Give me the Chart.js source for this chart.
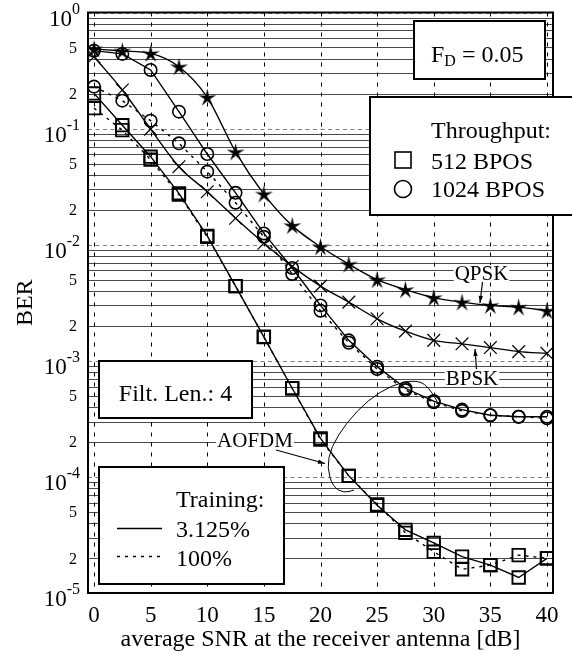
<!DOCTYPE html>
<html>
<head>
<meta charset="utf-8">
<script src="https://cdn.jsdelivr.net/npm/chart.js@4.4.0/dist/chart.umd.min.js"></script>
<style>
  html, body { margin: 0; padding: 0; background: #fff; }
  canvas { display: block; }
</style>
</head>
<body>
<canvas id="berChart" width="572" height="654"></canvas>
<script>
// x positions (dB) shared by every curve
const snr = [0, 2.5, 5, 7.5, 10, 12.5, 15, 17.5, 20, 22.5, 25, 27.5, 30, 32.5, 35, 37.5, 40]

// fixed modems
const qpsk = [0.485, 0.466, 0.445, 0.341, 0.186, 0.063, 0.0273, 0.0146, 0.0096, 0.0068, 0.005, 0.0041, 0.0035, 0.0032, 0.003, 0.0029, 0.0027]
const bpsk = [0.416, 0.215, 0.099, 0.047, 0.0286, 0.0169, 0.0103, 0.0065, 0.0044, 0.0032, 0.0023, 0.0018, 0.0015, 0.0014, 0.0013, 0.0012, 0.00116]

// AOFDM, 3.125% training (solid) and 100% training (dotted)
const bpos1024 = [0.469, 0.44, 0.32, 0.14, 0.0604, 0.028, 0.0125, 0.0063, 0.003, 0.0015, 0.00089, 0.00058, 0.00045, 0.00038, 0.00034, 0.00033, 0.00033]
const bpos1024Full = [0.23, 0.174, 0.117, 0.0747, 0.0426, 0.023, 0.0117, 0.0056, 0.0027, 0.00143, 0.00085, 0.00056, 0.00044, 0.00037, 0.00034, 0.00033, 0.00032]
const bpos512 = [0.201, 0.107, 0.0573, 0.0277, 0.0119, 0.0044, 0.00161, 0.00058, 0.000215, 0.000102, 5.7e-5, 3.5e-5, 2.7e-5, 2.06e-5, 1.74e-5, 1.36e-5, 1.99e-5]
const bpos512Full = [0.15, 0.097, 0.054, 0.027, 0.0117, 0.0044, 0.0016, 0.00058, 0.00021, 0.000102, 5.8e-5, 3.3e-5, 2.27e-5, 1.6e-5, 1.74e-5, 2.12e-5, 1.99e-5]

// axes
const xTicks = [0, 5, 10, 15, 20, 25, 30, 35, 40]
const yExponents = [0, -1, -2, -3, -4, -5]
const yMinorLabels = [2, 5]

const FONT = '"Liberation Serif", "Times New Roman", serif'
const ctx = document.getElementById('berChart').getContext('2d')

function makeStar(outer, inner) {
    const c = document.createElement('canvas')
    const s = Math.ceil(outer * 2 + 2)
    c.width = s
    c.height = s
    const g = c.getContext('2d')
    g.beginPath()
    for (let i = 0; i < 10; i++) {
        const r = i % 2 ? inner : outer
        const a = -Math.PI / 2 + i * Math.PI / 5
        g.lineTo(s / 2 + r * Math.cos(a), s / 2 + 0.8 + r * Math.sin(a))
    }
    g.closePath()
    g.fillStyle = '#000'
    g.fill()
    return c
}
const starImg = makeStar(9.5, 2.9)

function series(values) {
    return snr.map((x, i) => ({ x: x, y: values[i] }))
}

function curve(values, style, radius, dotted, smooth, bw) {
    return {
        data: series(values),
        borderColor: '#000',
        borderWidth: 1.4,
        borderDash: dotted ? [3, 5] : [],
        backgroundColor: 'transparent',
        pointStyle: style,
        pointRadius: radius,
        pointBorderColor: '#000',
        pointBackgroundColor: 'transparent',
        pointBorderWidth: bw,
        cubicInterpolationMode: smooth ? 'monotone' : 'default',
        tension: 0,
    }
}

const data = {
    datasets: [
        curve(qpsk, starImg, 8, false, true, 1),
        curve(bpsk, 'crossRot', 9, false, true, 1.2),
        curve(bpos1024, 'circle', 6.2, false, false, 1.6),
        curve(bpos1024Full, 'circle', 6.2, true, false, 1.6),
        curve(bpos512, 'rect', 8.8, false, false, 1.9),
        curve(bpos512Full, 'rect', 8.8, true, false, 1.9),
    ],
}

function isDecade(v) {
    const l = Math.log10(v)
    return Math.abs(l - Math.round(l)) < 1e-9
}

function seg(c, x1, y1, x2, y2) {
    c.beginPath()
    c.moveTo(x1, y1)
    c.lineTo(x2, y2)
    c.stroke()
}

function arrow(c, x1, y1, x2, y2) {
    seg(c, x1, y1, x2, y2)
    const a = Math.atan2(y2 - y1, x2 - x1)
    c.beginPath()
    c.moveTo(x2, y2)
    c.lineTo(x2 - 7 * Math.cos(a) + 2.2 * Math.sin(a), y2 - 7 * Math.sin(a) - 2.2 * Math.cos(a))
    c.lineTo(x2 - 7 * Math.cos(a) - 2.2 * Math.sin(a), y2 - 7 * Math.sin(a) + 2.2 * Math.cos(a))
    c.closePath()
    c.fill()
}

function box(c, x, y, w, h) {
    c.fillStyle = '#fff'
    c.fillRect(x, y, w, h)
    c.lineWidth = 2
    c.strokeStyle = '#000'
    c.setLineDash([])
    c.strokeRect(x, y, w, h)
    c.fillStyle = '#000'
}

// label sitting on a grid line, with a white patch behind it
function tag(c, text, cx, base) {
    c.font = '21px ' + FONT
    const w = c.measureText(text).width
    c.fillStyle = '#fff'
    c.fillRect(cx - w / 2 - 1, base - 15, w + 2, 17)
    c.fillStyle = '#000'
    c.textAlign = 'center'
    c.fillText(text, cx, base)
}

const decor = {
    id: 'decor',
    beforeDatasetsDraw(chart) {
        const c = chart.ctx
        const a = chart.chartArea
        const x = chart.scales.x
        const y = chart.scales.y
        c.save()
        c.lineWidth = 1
        y.ticks.forEach(t => {
            const py = Math.round(y.getPixelForValue(t.value)) + 0.5
            if (isDecade(t.value)) {
                c.strokeStyle = '#808080'
                c.setLineDash([4, 3.5])
            } else {
                c.strokeStyle = '#4a4a4a'
                c.setLineDash([])
            }
            seg(c, a.left, py, a.right, py)
        })
        c.strokeStyle = '#000'
        c.setLineDash([4, 6])
        xTicks.forEach(v => {
            const px = Math.round(x.getPixelForValue(v)) + 0.5
            seg(c, px, a.top, px, a.bottom)
        })
        c.restore()
    },
    afterDraw(chart) {
        const c = chart.ctx
        const a = chart.chartArea
        const y = chart.scales.y
        c.save()
        c.setLineDash([])
        c.strokeStyle = '#000'
        c.lineWidth = 2
        c.strokeRect(a.left, a.top, a.right - a.left, a.bottom - a.top)

        // y tick labels: 10^n and the 2 / 5 in between
        c.fillStyle = '#000'
        c.textBaseline = 'alphabetic'
        yExponents.forEach(e => {
            const py = y.getPixelForValue(Math.pow(10, e))
            c.font = '16px ' + FONT
            c.textAlign = 'right'
            const exp = String(e)
            c.fillText(exp, 80, py + 1)
            const ew = c.measureText(exp).width
            c.font = '23px ' + FONT
            c.fillText('10', 80 - ew, py + 13)
        })
        c.font = '16px ' + FONT
        c.textAlign = 'right'
        yExponents.slice(1).forEach(e => {
            yMinorLabels.forEach(m => {
                const py = y.getPixelForValue(m * Math.pow(10, e))
                c.fillText(String(m), 77, py + 5.5)
            })
        })

        // F_D box
        box(c, 414, 21, 131, 58)
        c.textAlign = 'left'
        c.font = '24px ' + FONT
        c.fillText('F', 431, 62)
        let fx = 431 + c.measureText('F').width
        c.font = '16px ' + FONT
        c.fillText('D', fx, 66)
        fx += c.measureText('D').width
        c.font = '24px ' + FONT
        c.fillText(' = 0.05', fx, 62)

        // throughput legend
        box(c, 370, 97, 210, 118)
        c.font = '24px ' + FONT
        c.fillText('Throughput:', 431, 138)
        c.fillText('512 BPOS', 431, 168.5)
        c.fillText('1024 BPOS', 431, 196.5)
        c.lineWidth = 1.6
        c.strokeRect(395, 152, 16, 16)
        c.beginPath()
        c.arc(403, 189, 8.5, 0, Math.PI * 2)
        c.stroke()

        // filter length box
        box(c, 99, 361, 153, 57)
        c.font = '24px ' + FONT
        c.textAlign = 'center'
        c.fillText('Filt. Len.: 4', 175.5, 401)

        // training legend
        box(c, 99, 467, 185, 117)
        c.textAlign = 'left'
        c.fillText('Training:', 176, 507)
        c.fillText('3.125%', 176, 537)
        c.fillText('100%', 176, 566)
        c.lineWidth = 1.4
        seg(c, 117, 528.5, 162, 528.5)
        c.setLineDash([3, 5])
        seg(c, 117, 556.5, 162, 556.5)
        c.setLineDash([])

        // curve labels
        tag(c, 'QPSK', 481.5, 280)
        tag(c, 'BPSK', 472, 385)
        tag(c, 'AOFDM', 255, 447)
        c.lineWidth = 1.2
        arrow(c, 482.5, 282, 480, 303)
        arrow(c, 476.5, 369, 475, 349)
        arrow(c, 276, 450, 325, 463.5)

        // loop around the AOFDM curves
        const loop = [[437, 401], [428, 385], [414, 380], [392, 385], [368, 400], [347, 422],
            [331, 447], [327, 468], [333, 487], [344, 493], [354, 490]]
        c.lineWidth = 1
        c.beginPath()
        c.moveTo(loop[0][0], loop[0][1])
        for (let i = 1; i < loop.length - 1; i++) {
            const mx = (loop[i][0] + loop[i + 1][0]) / 2
            const my = (loop[i][1] + loop[i + 1][1]) / 2
            c.quadraticCurveTo(loop[i][0], loop[i][1], mx, my)
        }
        c.lineTo(loop[loop.length - 1][0], loop[loop.length - 1][1])
        c.stroke()
        c.restore()
    },
}

const config = {
    type: 'line',
    data: data,
    options: {
        responsive: false,
        animation: false,
        layout: { padding: { left: 0, right: 19, top: 12.5, bottom: 0 } },
        plugins: {
            legend: { display: false },
            tooltip: { enabled: false },
        },
        scales: {
            x: {
                type: 'linear',
                min: -0.53,
                max: 40.53,
                afterBuildTicks: s => { s.ticks = xTicks.map(v => ({ value: v })) },
                afterFit: s => { s.height = 61 },
                grid: { display: false, drawTicks: false },
                border: { display: false },
                ticks: {
                    color: '#000',
                    font: { family: FONT, size: 23 },
                    padding: 9,
                    maxRotation: 0,
                    autoSkip: false,
                },
                title: {
                    display: true,
                    text: 'average SNR at the receiver antenna [dB]',
                    color: '#000',
                    font: { family: FONT, size: 24 },
                    padding: { top: 0, bottom: 0 },
                },
            },
            y: {
                type: 'logarithmic',
                min: 1e-5,
                max: 1,
                afterBuildTicks: s => {
                    const t = []
                    yExponents.slice(1).forEach(e => {
                        for (let m = 1; m <= 9; m++) t.push({ value: m * Math.pow(10, e) })
                    })
                    t.push({ value: 1 })
                    s.ticks = t
                },
                afterFit: s => { s.width = 88 },
                grid: { display: false, drawTicks: false },
                border: { display: false },
                ticks: { display: false },
                title: {
                    display: true,
                    text: 'BER',
                    color: '#000',
                    font: { family: FONT, size: 24 },
                    padding: { top: 11, bottom: 0 },
                },
            },
        },
    },
    plugins: [decor],
}

const berChart = new Chart(ctx, config)
</script>
</body>
</html>
